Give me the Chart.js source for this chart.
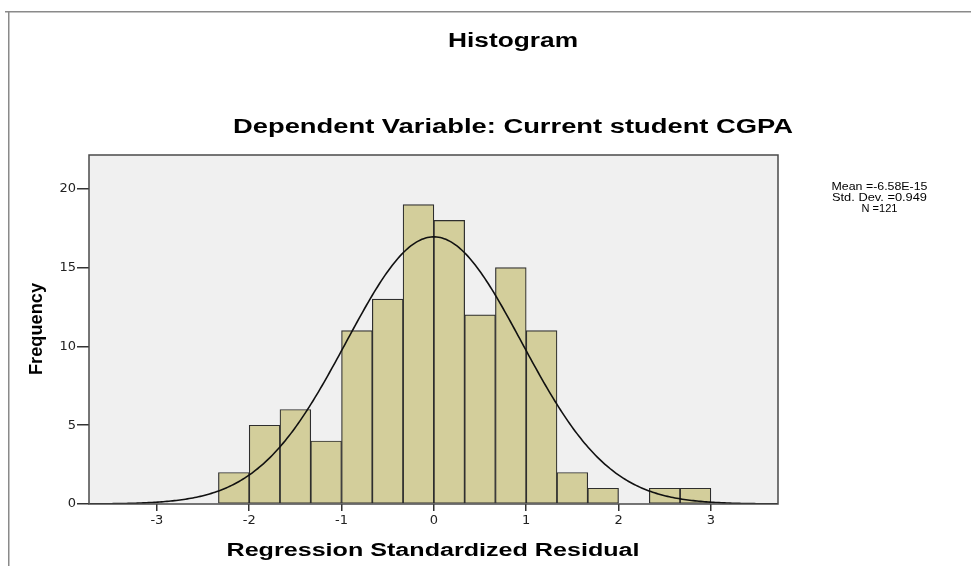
<!DOCTYPE html>
<html>
<head>
<meta charset="utf-8">
<script src="https://cdn.jsdelivr.net/npm/chart.js@4/dist/chart.umd.min.js"></script>
<style>
  html, body { margin: 0; padding: 0; background: #ffffff; }
  canvas { display: block; }
</style>
</head>
<body>
<canvas id="c" width="971" height="566"></canvas>
<script>
// ---- Data ----
const binCenters = [-2.1667, -1.8333, -1.5, -1.1667, -0.8333, -0.5, -0.1667, 0.1667, 0.5, 0.8333, 1.1667, 1.5, 1.8333, 2.1667, 2.5, 2.8333];
const frequencies = [2, 5, 6, 4, 11, 13, 19, 18, 12, 15, 11, 2, 1, 0, 1, 1];
const xTickValues = [-3, -2, -1, 0, 1, 2, 3];
const yTickValues = [0, 5, 10, 15, 20];
const statsLines = ['Mean =-6.58E-15', 'Std. Dev. =0.949', 'N =121'];
const fitMean = -6.58e-15;
const fitSD = 0.949;
const fitN = 121;
const binWidth = 1 / 3;
const titleText = 'Histogram';
const subtitleText = 'Dependent Variable: Current student CGPA';
const xTitle = 'Regression Standardized Residual';
const yTitle = 'Frequency';

// Normal fit curve defined by the displayed statistics (mean, std. dev., N, bin width)
const curveXs = [];
for (let i = 0; i <= 373; i++) curveXs.push(-3.73 + i * 0.02);
const curve = curveXs.map(x => ({
  x: x,
  y: fitN * binWidth * Math.exp(-0.5 * Math.pow((x - fitMean) / fitSD, 2)) / (fitSD * Math.sqrt(2 * Math.PI))
}));
const bars = binCenters.map((c, i) => ({ x: c, y: frequencies[i] }));

function drawFit(ctx, text, font, cx, baseY, targetW) {
  ctx.save();
  ctx.font = font;
  const w = ctx.measureText(text).width;
  const sx = targetW / w;
  ctx.translate(cx, baseY);
  ctx.scale(sx, 1);
  ctx.textAlign = 'center';
  ctx.textBaseline = 'alphabetic';
  ctx.fillText(text, 0, 0);
  ctx.restore();
}

const decor = {
  id: 'decor',
  beforeDraw(chart) {
    const { ctx, chartArea: a } = chart;
    ctx.save();
    ctx.fillStyle = '#f0f0f0';
    ctx.fillRect(a.left, a.top, a.right - a.left, a.bottom - a.top);
    // outer frame (top and left)
    ctx.fillStyle = '#8a8a8a';
    ctx.fillRect(5, 11, 966, 1.5);
    ctx.fillRect(8, 11, 1.5, 555);
    ctx.restore();
  },
  afterDraw(chart) {
    const { ctx, chartArea: a } = chart;
    ctx.save();
    ctx.strokeStyle = '#4a4a4a';
    ctx.lineWidth = 1.5;
    ctx.strokeRect(a.left, a.top, a.right - a.left, a.bottom - a.top);
    ctx.fillStyle = '#000000';
    drawFit(ctx, titleText, 'bold 20px "Liberation Sans", Arial, sans-serif', 513, 47, 130);
    drawFit(ctx, subtitleText, 'bold 20px "Liberation Sans", Arial, sans-serif', 513, 133, 560);
    drawFit(ctx, xTitle, 'bold 18px "Liberation Sans", Arial, sans-serif', 433, 556, 413);
    // y title rotated
    ctx.save();
    ctx.translate(42, 329);
    ctx.rotate(-Math.PI / 2);
    ctx.font = 'bold 18px "Liberation Sans", Arial, sans-serif';
    const w = ctx.measureText(yTitle).width;
    ctx.scale(92 / w, 1);
    ctx.textAlign = 'center';
    ctx.textBaseline = 'alphabetic';
    ctx.fillText(yTitle, 0, 0);
    ctx.restore();
    // stats block
    const widths = [96, 95, 36];
    const bases = [190, 201, 212];
    statsLines.forEach((t, i) => drawFit(ctx, t, '11px "Liberation Sans", Arial, sans-serif', 879.5, bases[i], widths[i]));
    ctx.restore();
  }
};

new Chart(document.getElementById('c'), {
  type: 'bar',
  data: {
    datasets: [
      {
        type: 'line',
        data: curve,
        borderColor: '#111111',
        borderWidth: 1.6,
        pointRadius: 0,
        tension: 0,
        fill: false,
        order: 0
      },
      {
        type: 'bar',
        data: bars,
        backgroundColor: '#d3ce9b',
        borderColor: '#2e2e2e',
        borderWidth: 1.2,
        borderSkipped: false,
        barPercentage: 1,
        categoryPercentage: 1,
        order: 1
      }
    ]
  },
  options: {
    responsive: false,
    animation: false,
    devicePixelRatio: 1,
    layout: { padding: { left: 0, top: 155, right: 193, bottom: 0 } },
    plugins: { legend: { display: false }, tooltip: { enabled: false }, title: { display: false } },
    scales: {
      x: {
        type: 'linear',
        min: -3.735,
        max: 3.727,
        offset: false,
        grid: { display: true, offset: false, drawOnChartArea: false, drawTicks: true, tickLength: 7, color: '#333333', lineWidth: 1.5 },
        border: { display: false },
        ticks: { padding: 2, color: '#222222', font: { family: '"DejaVu Sans", sans-serif', size: 13 }, maxRotation: 0, autoSkip: false },
        afterBuildTicks(scale) { scale.ticks = xTickValues.map(v => ({ value: v })); },
        afterFit(scale) { scale.height = 62; }
      },
      y: {
        type: 'linear',
        min: 0,
        max: 22.15,
        grid: { display: true, offset: false, drawOnChartArea: false, drawTicks: true, tickLength: 12, color: '#333333', lineWidth: 1.5 },
        border: { display: false },
        ticks: { padding: 1, color: '#222222', font: { family: '"DejaVu Sans", sans-serif', size: 13 } },
        afterBuildTicks(scale) { scale.ticks = yTickValues.map(v => ({ value: v })); },
        afterFit(scale) { scale.width = 89; }
      }
    }
  },
  plugins: [decor]
});
</script>
</body>
</html>
